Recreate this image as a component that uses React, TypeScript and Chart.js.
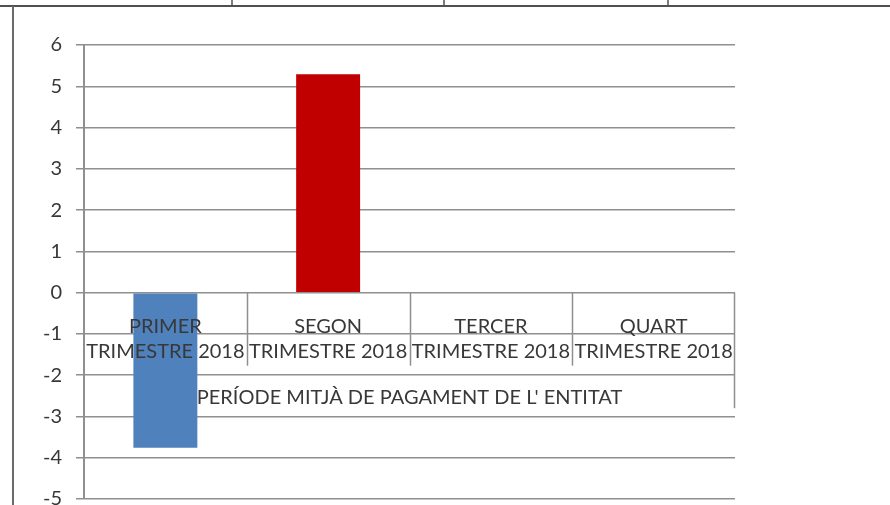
import React, { useEffect, useRef } from "react";
import { Chart, registerables } from "chart.js";

Chart.register(...registerables);

const categories = ["PRIMER TRIMESTRE 2018", "SEGON TRIMESTRE 2018", "TERCER TRIMESTRE 2018", "QUART TRIMESTRE 2018"];
const categoryLine1 = ["PRIMER", "SEGON", "TERCER", "QUART"];
const categoryLine2 = ["TRIMESTRE 2018", "TRIMESTRE 2018", "TRIMESTRE 2018", "TRIMESTRE 2018"];
const groupLabel = "PERÍODE MITJÀ DE PAGAMENT DE L' ENTITAT";
const periodValues: (number | null)[] = [-3.76, 5.29, null, null];
const barColors = ["#4F81BD", "#C00000", "#4F81BD", "#4F81BD"];
const yMin = -5;
const yMax = 6;
const yStep = 1;

const FONT = "Lato, 'Open Sans', sans-serif";
const TEXT = "#383838";
const GRID = "#8f8f8f";

const tablePlugin = {
  id: "categoryTable",
  afterDatasetsDraw(chart: any) {
    const { ctx, chartArea, scales } = chart;
    const x = scales.x;
    const y = scales.y;
    const y0 = y.getPixelForValue(0);
    const unit = y.getPixelForValue(-1) - y0;
    ctx.save();
    ctx.font = `20px ${FONT}`;
    ctx.fillStyle = TEXT;
    ctx.textAlign = "center";
    ctx.textBaseline = "alphabetic";
    categoryLine1.forEach((t, i) => {
      ctx.fillText(t, x.getPixelForValue(i), y0 + unit * 0.97);
    });
    categoryLine2.forEach((t, i) => {
      ctx.fillText(t, x.getPixelForValue(i), y0 + unit * 1.58);
    });
    ctx.fillText(groupLabel, (chartArea.left + chartArea.right) / 2, y0 + unit * 2.7);
    ctx.strokeStyle = GRID;
    ctx.lineWidth = 1.5;
    for (let i = 1; i < categories.length; i++) {
      const px = Math.round((x.getPixelForValue(i - 1) + x.getPixelForValue(i)) / 2) + 0.5;
      ctx.beginPath();
      ctx.moveTo(px, y0);
      ctx.lineTo(px, y0 + unit * 1.77);
      ctx.stroke();
    }
    const rx = Math.round(chartArea.right) - 0.5;
    ctx.beginPath();
    ctx.moveTo(rx, y0);
    ctx.lineTo(rx, y0 + unit * 2.8);
    ctx.stroke();
    ctx.restore();
  },
};

const framePlugin = {
  id: "pageFrame",
  afterDraw(chart: any) {
    const { ctx, width, height } = chart;
    ctx.save();
    ctx.strokeStyle = "#505050";
    ctx.lineWidth = 2;
    ctx.beginPath();
    ctx.moveTo(0, 6);
    ctx.lineTo(width, 6);
    ctx.stroke();
    ctx.lineWidth = 1.5;
    [232, 444, 668].forEach((px) => {
      ctx.beginPath();
      ctx.moveTo(px, 0);
      ctx.lineTo(px, 6);
      ctx.stroke();
    });
    ctx.strokeStyle = "#6a6a6a";
    ctx.lineWidth = 2;
    ctx.beginPath();
    ctx.moveTo(13, 6);
    ctx.lineTo(13, height);
    ctx.stroke();
    ctx.restore();
  },
};

export default function App() {
  const ref = useRef<HTMLCanvasElement | null>(null);
  useEffect(() => {
    if (!ref.current) return;
    const chart = new Chart(ref.current, {
      type: "bar",
      data: {
        labels: categories,
        datasets: [
          {
            data: periodValues,
            backgroundColor: barColors,
            borderWidth: 0,
            barPercentage: 0.393,
            categoryPercentage: 1,
          },
        ],
      },
      options: {
        responsive: false,
        animation: false,
        events: [],
        layout: { padding: { left: 0, right: 155, top: 45, bottom: 6 } },
        plugins: { legend: { display: false }, tooltip: { enabled: false }, title: { display: false } },
        scales: {
          x: { display: false },
          y: {
            min: yMin,
            max: yMax,
            ticks: {
              stepSize: yStep,
              padding: 14,
              color: TEXT,
              font: { family: FONT, size: 20 },
            },
            grid: { color: GRID, lineWidth: 1.5, tickLength: 8, drawTicks: true },
            border: { color: GRID, width: 2 },
            afterFit(s: any) {
              s.width = 84;
              s.paddingTop = 0;
              s.paddingBottom = 0;
            },
          },
        },
      },
      plugins: [tablePlugin, framePlugin],
    });
    return () => chart.destroy();
  }, []);
  return (
    <div style={{ position: "absolute", left: 0, top: 0, width: 890, height: 505, background: "#fff" }}>
      <canvas ref={ref} width={890} height={505} style={{ display: "block" }} />
    </div>
  );
}
